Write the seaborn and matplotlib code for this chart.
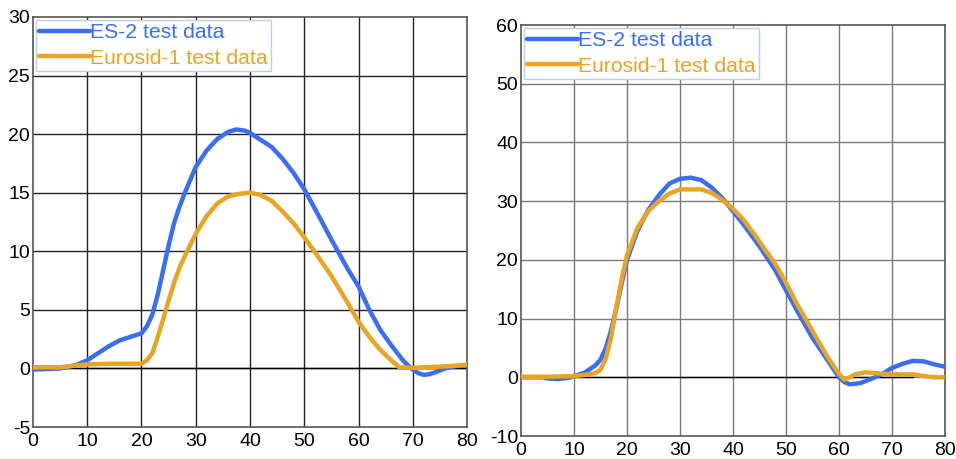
import matplotlib
matplotlib.use("Agg")
import matplotlib.pyplot as plt
import seaborn as sns
import pandas as pd

sns.set_theme(style="white")
plt.rcParams['font.family'] = ['Liberation Sans', 'DejaVu Sans']
plt.rcParams['axes.unicode_minus'] = False

# Left chart data
left_es2_x = [0, 5, 8, 10, 12, 14, 16, 18, 19, 20, 21, 22, 23, 24, 25, 26, 27, 28, 30, 32, 34,
              36, 37.5, 39, 40, 42, 44, 46, 48, 50, 52, 55, 58, 60, 62, 64, 66, 68, 69, 70, 71,
              72, 73, 74, 76, 78, 80]
left_es2_y = [-0.1, 0.0, 0.3, 0.7, 1.3, 1.9, 2.4, 2.7, 2.85, 3.0, 3.6, 4.6, 6.3, 8.4, 10.5,
              12.4, 13.8, 15.0, 17.2, 18.6, 19.6, 20.2, 20.4, 20.3, 20.1, 19.5, 18.9, 17.9, 16.7,
              15.3, 13.6, 11.0, 8.5, 7.0, 5.0, 3.3, 2.0, 0.8, 0.3, -0.1, -0.4, -0.55, -0.5,
              -0.35, 0.0, 0.2, 0.25]
left_eu1_x = [0, 5, 8, 10, 15, 20, 21, 22, 23, 24, 25, 26, 27, 28, 30, 32, 34, 36, 38, 40, 42,
              44, 46, 48, 50, 52, 55, 58, 60, 62, 64, 66, 67.5, 70, 72, 75, 80]
left_eu1_y = [0.1, 0.1, 0.25, 0.35, 0.4, 0.4, 0.7, 1.3, 2.7, 4.2, 5.8, 7.3, 8.6, 9.6, 11.5,
              13.0, 14.1, 14.7, 14.9, 15.0, 14.8, 14.3, 13.4, 12.4, 11.2, 9.9, 7.9, 5.6, 4.0,
              2.7, 1.6, 0.7, 0.1, 0.05, 0.1, 0.15, 0.3]

# Right chart data
right_es2_x = [0, 4, 5, 7, 9, 10, 12, 14, 15, 16, 17, 18, 19, 20, 22, 24, 26, 28, 30, 32, 34,
               36, 38, 40, 42, 45, 48, 50, 52, 55, 58, 60, 61, 62, 64, 66, 68, 70, 72, 74, 76,
               78, 80]
right_es2_y = [0.0, 0.0, -0.2, -0.3, -0.1, 0.2, 0.8, 2.0, 3.0, 5.0, 8.0, 11.8, 16.0, 20.0, 25.0,
               28.5, 31.0, 33.0, 33.8, 34.0, 33.6, 32.3, 30.5, 28.3, 26.0, 22.3, 18.2, 14.8,
               11.5, 6.7, 2.7, 0.0, -0.8, -1.2, -1.0, -0.3, 0.5, 1.6, 2.3, 2.8, 2.7, 2.2, 1.8]
right_eu1_x = [0, 5, 10, 12, 14, 15, 16, 17, 18, 19, 20, 22, 24, 26, 28, 30, 32, 34, 36, 38, 40,
               42, 44, 46, 48, 50, 52, 55, 58, 60, 61, 62, 63, 65, 67, 70, 74, 76, 78, 80]
right_eu1_y = [0.1, 0.1, 0.2, 0.4, 0.7, 1.3, 3.2, 6.8, 12.0, 16.8, 20.8, 25.5, 28.3, 30.0, 31.3,
               32.0, 32.0, 32.0, 31.4, 30.2, 28.7, 26.8, 24.4, 21.8, 19.3, 16.1, 12.6, 7.9, 3.2,
               0.6, -0.4, 0.0, 0.5, 0.85, 0.7, 0.5, 0.5, 0.2, 0.0, 0.0]

labels = ["ES-2 test data", "Eurosid-1 test data"]
colors = ["#3a6ef5", "#e9a422"]

fig = plt.figure(figsize=(9.56, 4.59), dpi=100)
ax1 = fig.add_axes([0.0345, 0.0697, 0.4540, 0.8933])
ax2 = fig.add_axes([0.5450, 0.0501, 0.4435, 0.8954])


def draw(ax, es_x, es_y, eu_x, eu_y, ylim, yticks, gridcol, zero_end):
    df = pd.concat([
        pd.DataFrame({"x": es_x, "y": es_y, "series": labels[0]}),
        pd.DataFrame({"x": eu_x, "y": eu_y, "series": labels[1]}),
    ])
    ax.set_xlim(0, 80)
    ax.set_ylim(*ylim)
    ax.set_xticks(range(0, 81, 10))
    ax.set_yticks(yticks)
    for v in range(10, 80, 10):
        ax.axvline(v, color=gridcol, lw=1.0, zorder=0)
    for v in yticks[1:-1]:
        ax.axhline(v, color=gridcol, lw=1.0, zorder=0)
    ax.plot([0, zero_end], [0, 0], color="black", lw=1.0, zorder=1)
    sns.lineplot(data=df, x="x", y="y", hue="series", palette=colors, ax=ax,
                 linewidth=3.2, legend=False, sort=False, zorder=3)
    for s in ax.spines.values():
        s.set_color("#555555")
        s.set_linewidth(1.2)
    ax.set_xlabel("")
    ax.set_ylabel("")
    ax.tick_params(axis="both", length=0, labelsize=14, colors="black")
    ax.tick_params(axis="x", pad=4)
    ax.tick_params(axis="y", pad=2)
    handles = [plt.Line2D([], [], color=c, lw=3.2) for c in colors]
    leg = ax.legend(handles, labels, loc="upper left", bbox_to_anchor=(0.0, 1.0),
                    fontsize=15.2, frameon=True, fancybox=False, borderpad=0.15,
                    handlelength=2.4, handletextpad=0.0, labelspacing=0.3,
                    borderaxespad=0.15, framealpha=1.0)
    leg.get_frame().set_edgecolor("#b8d0e8")
    leg.get_frame().set_linewidth(1.0)
    for t, c in zip(leg.get_texts(), colors):
        t.set_color(c)


draw(ax1, left_es2_x, left_es2_y, left_eu1_x, left_eu1_y, (-5, 30),
     list(range(-5, 31, 5)), "#222222", 80)
draw(ax2, right_es2_x, right_es2_y, right_eu1_x, right_eu1_y, (-10, 60),
     list(range(-10, 61, 10)), "#7a7a7a", 74)

fig.savefig("out.png", dpi=100)
